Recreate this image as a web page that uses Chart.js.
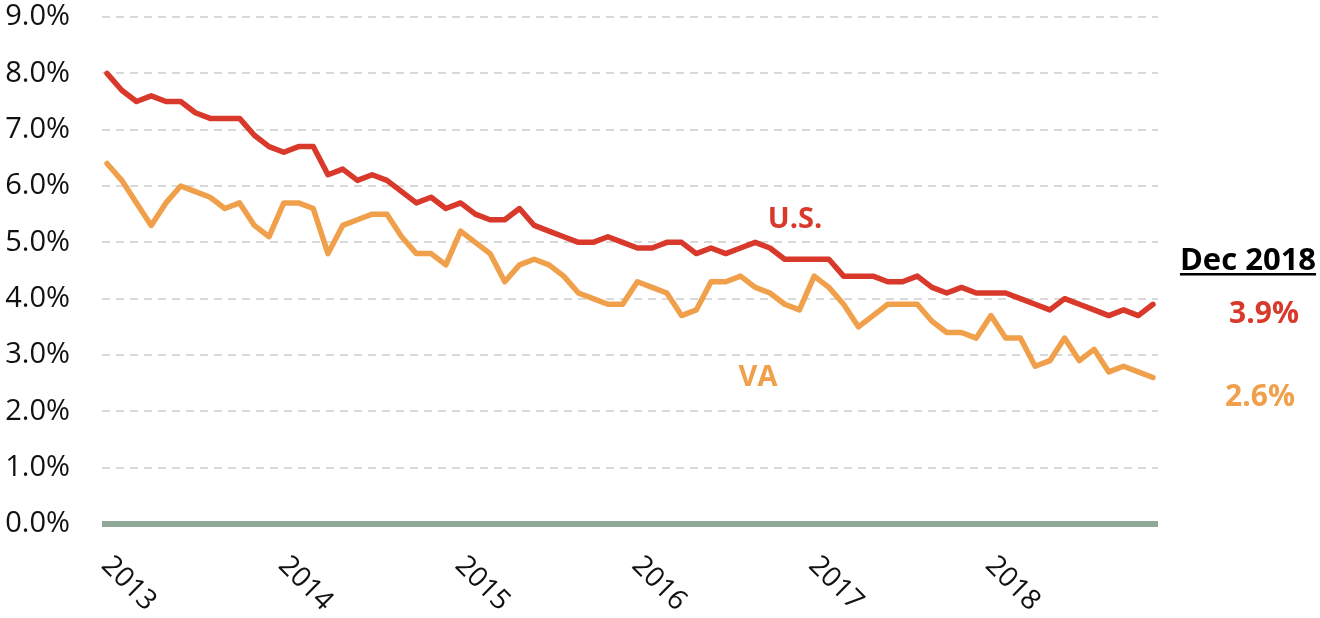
<!DOCTYPE html>
<html>
<head>
<meta charset="utf-8">
<script src="https://cdn.jsdelivr.net/npm/chart.js@4/dist/chart.umd.min.js"></script>
<style>
  html, body { margin: 0; padding: 0; background: #ffffff; }
  #wrap { width: 1320px; height: 618px; position: relative; }
</style>
</head>
<body>
<div id="wrap"><canvas id="c" width="1320" height="618"></canvas></div>
<script>
// ---- data ----
const years = ['2013', '2014', '2015', '2016', '2017', '2018'];
const usRate = [8.0,7.7,7.5,7.6,7.5,7.5,7.3,7.2,7.2,7.2,6.9,6.7,
  6.6,6.7,6.7,6.2,6.3,6.1,6.2,6.1,5.9,5.7,5.8,5.6,
  5.7,5.5,5.4,5.4,5.6,5.3,5.2,5.1,5.0,5.0,5.1,5.0,
  4.9,4.9,5.0,5.0,4.8,4.9,4.8,4.9,5.0,4.9,4.7,4.7,
  4.7,4.7,4.4,4.4,4.4,4.3,4.3,4.4,4.2,4.1,4.2,4.1,
  4.1,4.1,4.0,3.9,3.8,4.0,3.9,3.8,3.7,3.8,3.7,3.9];
const vaRate = [6.4,6.1,5.7,5.3,5.7,6.0,5.9,5.8,5.6,5.7,5.3,5.1,
  5.7,5.7,5.6,4.8,5.3,5.4,5.5,5.5,5.1,4.8,4.8,4.6,
  5.2,5.0,4.8,4.3,4.6,4.7,4.6,4.4,4.1,4.0,3.9,3.9,
  4.3,4.2,4.1,3.7,3.8,4.3,4.3,4.4,4.2,4.1,3.9,3.8,
  4.4,4.2,3.9,3.5,3.7,3.9,3.9,3.9,3.6,3.4,3.4,3.3,
  3.7,3.3,3.3,2.8,2.9,3.3,2.9,3.1,2.7,2.8,2.7,2.6];
const seriesNames = ['U.S.', 'VA'];
const latestLabel = 'Dec 2018';
const yMin = 0, yMax = 9;

const RED = '#d8392b';
const ORANGE = '#f0a04b';
const ZERO = '#8fa898';
const FONT = '"Open Sans", "Noto Sans", sans-serif';

const toPoints = arr => arr.map((v, i) => ({ x: i, y: v }));

const overlay = {
  id: 'overlay',
  beforeDatasetsDraw(chart) {
    const { ctx, chartArea, scales } = chart;
    const y0 = scales.y.getPixelForValue(0);
    ctx.save();
    ctx.fillStyle = ZERO;
    ctx.fillRect(chartArea.left, y0 - 3, chartArea.right - chartArea.left, 6);
    ctx.restore();
  },
  afterDraw(chart) {
    const { ctx, scales } = chart;
    ctx.save();
    // rotated year labels (clockwise)
    ctx.fillStyle = '#111111';
    ctx.font = '28px ' + FONT;
    ctx.textAlign = 'left';
    ctx.textBaseline = 'middle';
    years.forEach((yr, k) => {
      const px = scales.x.getPixelForValue(k * 12);
      ctx.save();
      ctx.translate(px - 1, 561);
      ctx.rotate(Math.PI / 4);
      ctx.fillText(yr, 0, 0);
      ctx.restore();
    });
    // series labels
    ctx.font = 'bold 29px ' + FONT;
    ctx.textAlign = 'center';
    ctx.fillStyle = RED;
    ctx.fillText(seriesNames[0], 795, 220);
    ctx.fillStyle = ORANGE;
    ctx.fillText(seriesNames[1], 758, 378);
    // latest values
    ctx.fillStyle = '#000000';
    ctx.font = 'bold 31px ' + FONT;
    ctx.fillText(latestLabel, 1248, 261);
    const w = ctx.measureText(latestLabel).width;
    ctx.fillRect(1248 - w / 2, 273, w, 2.5);
    ctx.font = 'bold 30px ' + FONT;
    ctx.fillStyle = RED;
    ctx.fillText(usRate[usRate.length - 1].toFixed(1) + '%', 1264, 314);
    ctx.fillStyle = ORANGE;
    ctx.fillText(vaRate[vaRate.length - 1].toFixed(1) + '%', 1260, 397);
    ctx.restore();
  }
};

function build() {
  new Chart(document.getElementById('c'), {
    type: 'line',
    data: {
      datasets: [
        { label: seriesNames[0], data: toPoints(usRate), borderColor: RED, borderWidth: 5.5,
          pointRadius: 0, tension: 0, borderJoinStyle: 'round', borderCapStyle: 'round' },
        { label: seriesNames[1], data: toPoints(vaRate), borderColor: ORANGE, borderWidth: 5.5,
          pointRadius: 0, tension: 0, borderJoinStyle: 'round', borderCapStyle: 'round' }
      ]
    },
    options: {
      responsive: false,
      animation: false,
      events: [],
      layout: { padding: { left: 0, right: 162, top: 17, bottom: 94 } },
      plugins: { legend: { display: false }, tooltip: { enabled: false } },
      scales: {
        x: { type: 'linear', min: -0.34, max: usRate.length - 1 + 0.34, display: false },
        y: {
          min: yMin, max: yMax,
          afterFit(scale) {
            scale.width = 102;
            scale.paddingTop = 0;
            scale.paddingBottom = 0;
          },
          ticks: {
            stepSize: 1,
            padding: 32,
            color: '#111111',
            font: { family: FONT, size: 29, lineHeight: 1 },
            callback: v => Number(v).toFixed(1) + '%'
          },
          grid: {
            drawTicks: false,
            lineWidth: 2,
            color: ctx => (ctx.tick && ctx.tick.value === 0) ? 'rgba(0,0,0,0)' : '#d9d9d9'
          },
          border: { display: false, dash: [8, 6] }
        }
      }
    },
    plugins: [overlay]
  });
}

if (document.fonts && document.fonts.load) {
  Promise.all([
    document.fonts.load('28px "Open Sans"'),
    document.fonts.load('bold 28px "Open Sans"')
  ]).then(build, build);
} else {
  build();
}
</script>
</body>
</html>
